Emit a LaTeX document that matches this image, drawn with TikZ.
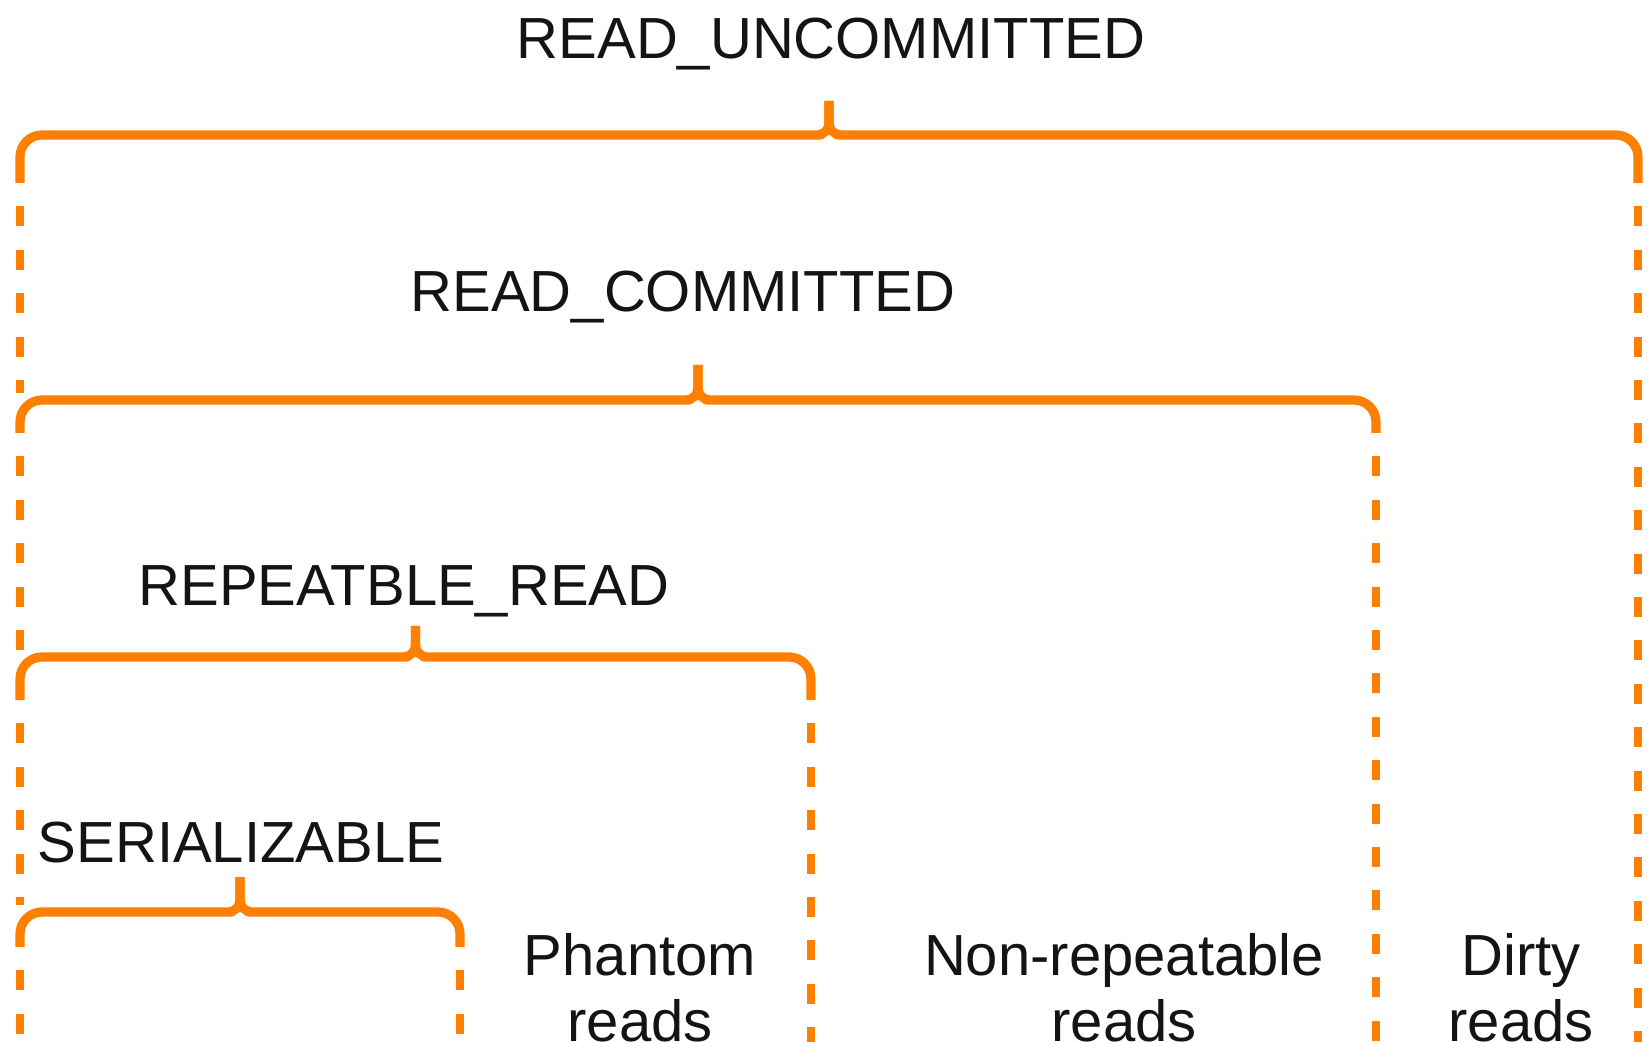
\documentclass[tikz,border=0pt]{standalone}
\usepackage{fontspec}
\setmainfont{Liberation Sans}
\definecolor{braceorange}{RGB}{255,128,0}
\definecolor{inktext}{RGB}{20,20,20}
\tikzset{
  bracestyle/.style={draw=braceorange, line width=4.6pt, line cap=butt, line join=round},
  legline/.style={draw=braceorange, line width=3.6pt, line cap=butt,
                  dash pattern=on 10pt off 11.7pt, dash phase=10pt},
  lvl/.style={text=inktext, font=\fontsize{29}{33}\selectfont, inner sep=0pt, anchor=base},
  anomaly/.style={lvl, align=center}
}
% one isolation-level brace: left x, right x, bar y, tip y, leg bottom y
\newcommand{\levelbrace}[5]{%
  \pgfmathsetmacro\bmid{(#1+#2)/2}%
  \draw[bracestyle] (#1,#5) [rounded corners=11pt] -- (#1,#3) -- (\bmid-30,#3)
     [rounded corners=6pt] -- (\bmid,#3) -- (\bmid,#4);
  \draw[bracestyle] (#2,#5) [rounded corners=11pt] -- (#2,#3) -- (\bmid+30,#3)
     [rounded corners=6pt] -- (\bmid,#3) -- (\bmid,#4);
}
\begin{document}
\begin{tikzpicture}[x=0.5pt, y=-0.5pt]
  \useasboundingbox (0,0) rectangle (1649,1042);
  \fill[white] (0,0) rectangle (1649,1042);

  % level labels
  \node[lvl] (ru) at (831,59)  {READ\textunderscore UNCOMMITTED};
  \node[lvl] (rc) at (683,312) {READ\textunderscore COMMITTED};
  \node[lvl] (rr) at (404,605) {REPEATBLE\textunderscore READ};
  \node[lvl] (se) at (241,862) {SERIALIZABLE};

  % anomaly labels (anchored on the baseline of the second line)
  \node[anomaly] (ph) at (640,1041)  {Phantom\\reads};
  \node[anomaly] (nr) at (1124,1041) {Non-repeatable\\reads};
  \node[anomaly] (dr) at (1521,1041) {Dirty\\reads};

  % braces
  \levelbrace{20}{1638}{135}{101}{183}
  \levelbrace{20}{1376}{400}{365}{433}
  \levelbrace{20}{811}{657}{626}{700}
  \levelbrace{20}{460}{912}{877}{947}

  % dashed boundaries
  \coordinate (l0) at (20,183);  \coordinate (l1) at (20,393);
  \coordinate (l2) at (20,433);  \coordinate (l3) at (20,650);
  \coordinate (l4) at (20,700);  \coordinate (l5) at (20,905);
  \coordinate (l6) at (20,947);  \coordinate (l7) at (20,1042);
  \draw[legline] (l0) -- (l1);
  \draw[legline] (l2) -- (l3);
  \draw[legline] (l4) -- (l5);
  \draw[legline] (l6) -- (l7);

  \coordinate (s0) at (460,947);  \coordinate (s1) at (460,1042);
  \coordinate (p0) at (811,700);  \coordinate (p1) at (811,1042);
  \coordinate (n0) at (1376,433); \coordinate (n1) at (1376,1042);
  \coordinate (d0) at (1638,183); \coordinate (d1) at (1638,1042);
  \draw[legline] (s0) -- (s1);
  \draw[legline] (p0) -- (p1);
  \draw[legline] (n0) -- (n1);
  \draw[legline] (d0) -- (d1);
\end{tikzpicture}
\end{document}
